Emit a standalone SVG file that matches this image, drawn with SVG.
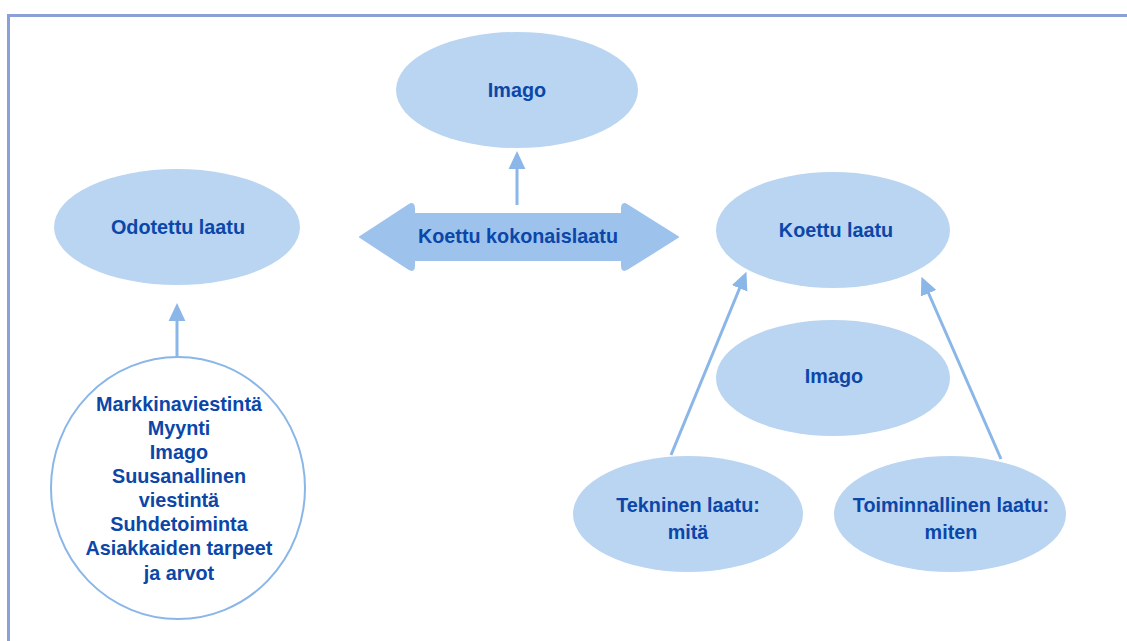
<svg xmlns="http://www.w3.org/2000/svg" width="1127" height="641" viewBox="0 0 1127 641">
<style>
.n{fill:#b9d5f1}
.t{font-family:"Liberation Sans",Arial,sans-serif;font-weight:bold;font-size:19.8px;fill:#0b46a8;text-anchor:middle}
.c{stroke:#8ab6e8;stroke-width:3;fill:none}
</style>
<defs>
<marker id="ah" markerWidth="6" markerHeight="6" refX="3" refY="3" orient="auto" markerUnits="strokeWidth">
<path d="M0,0.2 L6,3 L0,5.8 Z" fill="#8ab6e8"/>
</marker>
</defs>
<rect width="1127" height="641" fill="#fff"/>
<path d="M8.5,641 V15.5 H1127" fill="none" stroke="#8c9fd8" stroke-width="3"/>
<g id="connectors">
<line class="c" x1="517" y1="205" x2="517" y2="160" marker-end="url(#ah)"/>
<line class="c" x1="177" y1="357" x2="177" y2="312" marker-end="url(#ah)"/>
<line class="c" x1="671" y1="455" x2="743" y2="280" marker-end="url(#ah)"/>
<line class="c" x1="1001" y1="459" x2="925" y2="285" marker-end="url(#ah)"/>
</g>
<g id="imago-top">
<ellipse class="n" cx="517" cy="90" rx="121" ry="58"/>
<text class="t" x="517" y="97">Imago</text>
</g>
<g id="koettu-kokonaislaatu">
<path d="M360,237 L409,205 Q414,202 414,208 V214 H622 V208 Q622,202 627,205 L678,237 L627,269 Q622,272 622,266 V260 H414 V266 Q414,272 409,269 Z" fill="#9dc3ed" stroke="#9dc3ed" stroke-width="2" stroke-linejoin="round"/>
<text class="t" x="518" y="243">Koettu kokonaislaatu</text>
</g>
<g id="odotettu-laatu">
<ellipse class="n" cx="177" cy="227" rx="123" ry="58"/>
<text class="t" x="178" y="234">Odotettu laatu</text>
</g>
<g id="tekijat">
<ellipse cx="178" cy="488" rx="127" ry="131" fill="#fff" stroke="#8ab6e8" stroke-width="2"/>
<text class="t" x="179" y="411">Markkinaviestintä</text>
<text class="t" x="179" y="435">Myynti</text>
<text class="t" x="179" y="459">Imago</text>
<text class="t" x="179" y="483">Suusanallinen</text>
<text class="t" x="179" y="507">viestintä</text>
<text class="t" x="179" y="531">Suhdetoiminta</text>
<text class="t" x="179" y="555">Asiakkaiden tarpeet</text>
<text class="t" x="179" y="580">ja arvot</text>
</g>
<g id="koettu-laatu">
<ellipse class="n" cx="833" cy="230" rx="117" ry="58"/>
<text class="t" x="836" y="237">Koettu laatu</text>
</g>
<g id="imago-2">
<ellipse class="n" cx="833" cy="378" rx="117" ry="58"/>
<text class="t" x="834" y="383">Imago</text>
</g>
<g id="tekninen">
<ellipse class="n" cx="688" cy="514" rx="115" ry="58"/>
<text class="t" x="688" y="512">Tekninen laatu:</text>
<text class="t" x="688" y="539">mitä</text>
</g>
<g id="toiminnallinen">
<ellipse class="n" cx="950" cy="514" rx="116" ry="58"/>
<text class="t" x="951" y="512">Toiminnallinen laatu:</text>
<text class="t" x="951" y="539">miten</text>
</g>
</svg>
